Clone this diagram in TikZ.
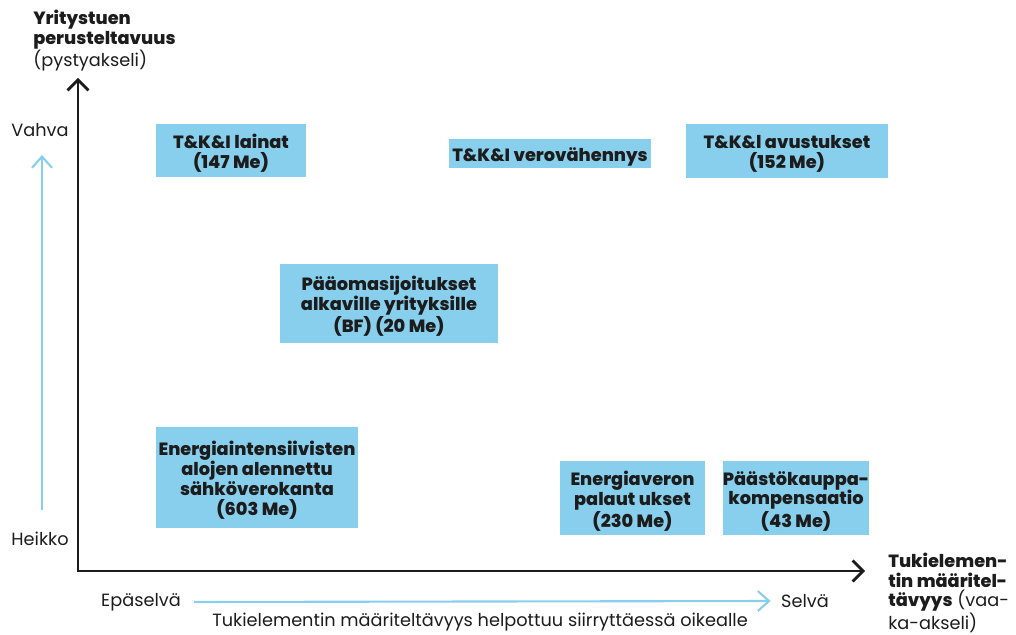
\documentclass[tikz,border=0pt]{standalone}
\usepackage{fontspec}
\setmainfont{Poppins}[BoldFont={Poppins ExtraBold}]
\usetikzlibrary{arrows.meta}
\definecolor{taivas}{RGB}{135,207,236}
\definecolor{muste}{RGB}{28,28,28}
\begin{document}
\begin{tikzpicture}[x=0.025cm,y=-0.025cm,line join=miter,
  >={Straight Barb[length=2.6mm,width=5.2mm]},
  font=\fontsize{12.6}{13.8}\selectfont,text=muste,
  tuki/.style={fill=taivas,inner sep=0pt},
  teksti/.style={inner sep=0pt,align=center,yshift=-2.2pt,font=\fontsize{12.6}{14.2}\selectfont\bfseries},
  akseli/.style={line width=2pt,draw=muste},
  apu/.style={line width=1.5pt,draw=taivas,->,>={Straight Barb[length=2.8mm,width=5mm]}}]
\useasboundingbox (0,0) rectangle (1016,635);
% Akselit
\coordinate (ykarki) at (78,78);
\coordinate (o) at (78,571);
\coordinate (xkarki) at (865,571);
\draw[akseli,<->] (ykarki) -- (o) -- (xkarki);
\node[anchor=north west,align=left,inner sep=0pt] (ynimi) at (33,10) {\textbf{Yritystuen}\\\textbf{perusteltavuus}\\(pystyakseli)};
\node[anchor=north west,align=left,inner sep=0pt] (xnimi) at (888,553) {\textbf{Tukielemen-}\\\textbf{tin määritel-}\\\textbf{tävyys} (vaa-\\ka-akseli)};
% Apunuolet
\node (vahva) at (40,130) {Vahva};
\node (heikko) at (40,539) {Heikko};
\coordinate (ala) at (42,510);
\coordinate (yla) at (42,155);
\draw[apu] (ala) -- (yla);
\node (epa) at (141,602) {Epäselvä};
\node (selva) at (805,601) {Selvä};
\draw[apu,shorten <=6pt,shorten >=4pt] (epa.east) -- (selva.west);
\node (selite) at (480,622) {Tukielementin määriteltävyys helpottuu siirryttäessä oikealle};
% Tukielementit (laatikko + teksti)
\node[tuki,minimum width=3.75cm,minimum height=1.325cm] (laina) at (231,150.5) {};
\node[teksti] (lainat) at (laina) {T\&K\&I lainat\\(147 Me)};
\node[tuki,minimum width=5.05cm,minimum height=0.725cm] (vero) at (550,153.5) {};
\node[teksti] (verot) at (vero) {T\&K\&I verovähennys};
\node[tuki,minimum width=5.05cm,minimum height=1.35cm] (avustus) at (787,151) {};
\node[teksti] (avustust) at (avustus) {T\&K\&l avustukset\\(152 Me)};
\node[tuki,minimum width=5.45cm,minimum height=1.975cm] (bf) at (389,303.5) {};
\node[teksti] (bft) at (bf) {Pääomasijoitukset\\alkaville yrityksille\\(BF) (20 Me)};
\node[tuki,minimum width=5.05cm,minimum height=2.525cm] (sahko) at (257,477.5) {};
\node[teksti] (sahkot) at (sahko) {Energiaintensiivisten\\alojen alennettu\\sähköverokanta\\(603 Me)};
\node[tuki,minimum width=3.625cm,minimum height=1.85cm] (palautus) at (632.5,498) {};
\node[teksti] (palautust) at (palautus) {Energiaveron\\palaut ukset\\(230 Me)};
\node[tuki,minimum width=3.65cm,minimum height=1.85cm] (paasto) at (796,498) {};
\node[teksti] (paastot) at (paasto) {Päästökauppa-\\kompensaatio\\(43 Me)};
\end{tikzpicture}
\end{document}
